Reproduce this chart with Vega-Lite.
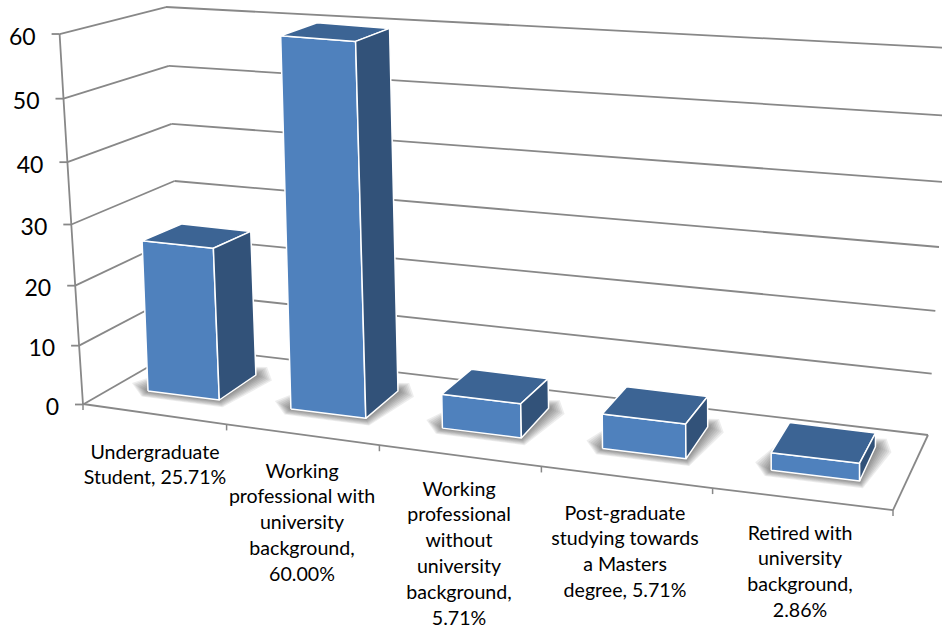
{
"$schema":"https://vega.github.io/schema/vega-lite/v6.json",
"width":942,"height":631,"padding":0,"autosize":{"type":"fit","contains":"padding"},
"background":"white",
"config":{"view":{"stroke":null},"text":{"font":"Lato"}},
"datasets":{
"bars":[
{"label":"Undergraduate\nStudent, 25.71%","value":25.71,"i":0},
{"label":"Working\nprofessional with\nuniversity\nbackground,\n60.00%","value":60,"i":1},
{"label":"Working\nprofessional\nwithout\nuniversity\nbackground,\n5.71%","value":5.71,"i":2},
{"label":"Post-graduate\nstudying towards\na Masters\ndegree, 5.71%","value":5.71,"i":3},
{"label":"Retired with\nuniversity\nbackground,\n2.86%","value":2.86,"i":4}],
"yticks":[{"v":0},{"v":10},{"v":20},{"v":30},{"v":40},{"v":50},{"v":60}],
"xticks":[{"i":0},{"i":1},{"i":2},{"i":3},{"i":4},{"i":5}]
},
"encoding":{
"x":{"field":"px","type":"quantitative","scale":{"domain":[0,942],"nice":false,"zero":false},"axis":null},
"y":{"field":"py","type":"quantitative","scale":{"domain":[631,0],"nice":false,"zero":false},"axis":null}
},
"layer":[
{"data":{"name":"yticks"},
 "transform":[
  {"calculate":"83-0.39*datum.v","as":"fx"},
  {"calculate":"404.5-5.825*datum.v-0.00583*datum.v*datum.v","as":"fy"},
  {"calculate":"183-0.283*datum.v","as":"bx"},
  {"calculate":"347-5.4*datum.v-0.00444*datum.v*datum.v","as":"by"},
  {"calculate":"928+0.367*datum.v","as":"rx"},
  {"calculate":"435-6.083*datum.v-0.0061*datum.v*datum.v","as":"ry"}],
 "layer":[
  {"transform":[{"calculate":"datum.fx","as":"px"},{"calculate":"datum.fy","as":"py"}],
   "mark":{"type":"line","stroke":"#888888","strokeWidth":1.8},"encoding":{"order":{"field":"v","type":"quantitative"}}},
  {"transform":[{"calculate":"datum.fx-8","as":"px"},{"calculate":"datum.fy","as":"py"}],
   "mark":{"type":"rule","stroke":"#888888","strokeWidth":1.8},"encoding":{"x2":{"field":"fx"},"y2":{"field":"fy"}}},
  {"transform":[{"calculate":"datum.fx","as":"px"},{"calculate":"datum.fy","as":"py"}],
   "mark":{"type":"rule","stroke":"#888888","strokeWidth":1.8},"encoding":{"x2":{"field":"bx"},"y2":{"field":"by"}}},
  {"transform":[{"calculate":"datum.bx","as":"px"},{"calculate":"datum.by","as":"py"}],
   "mark":{"type":"rule","stroke":"#888888","strokeWidth":1.8,"clip":true},"encoding":{"x2":{"field":"rx"},"y2":{"field":"ry"}}},
  {"transform":[{"calculate":"datum.fx-24","as":"px"},{"calculate":"datum.fy+10.5","as":"py"}],
   "mark":{"type":"text","align":"right","baseline":"alphabetic","fontSize":23,"fill":"#000000"},
   "encoding":{"text":{"field":"v","type":"quantitative"}}}
 ]},
{"data":{"name":"xticks"},
 "transform":[
  {"calculate":"83+139*datum.i+4.6*datum.i*datum.i","as":"px"},
  {"calculate":"404+0.131*(datum.px-83)+0.4*datum.i*(5-datum.i)","as":"py"},
  {"calculate":"datum.py+6","as":"tickEnd"}],
 "layer":[
  {"mark":{"type":"line","stroke":"#888888","strokeWidth":1.8},"encoding":{"order":{"field":"i","type":"quantitative"}}},
  {"mark":{"type":"rule","stroke":"#888888","strokeWidth":1.5},"encoding":{"y2":{"field":"tickEnd"}}},
  {"transform":[{"filter":"datum.i==5"},{"calculate":"928","as":"bx"},{"calculate":"435","as":"by"}],
   "mark":{"type":"rule","stroke":"#888888","strokeWidth":1.8},"encoding":{"x2":{"field":"bx"},"y2":{"field":"by"}}}
 ]},
{"data":{"name":"bars"},
 "transform":[
  {"calculate":"148+138.6*datum.i+4.3*datum.i*datum.i","as":"xBL"},
  {"calculate":"391+17.3*datum.i+0.63*datum.i*datum.i","as":"yBL"},
  {"calculate":"71.3+3.4*datum.i+0.22*datum.i*datum.i","as":"w"},
  {"calculate":"datum.xBL+datum.w","as":"xBR"},
  {"calculate":"datum.yBL+9+0.42*datum.i","as":"yBR"},
  {"calculate":"36.6-4.2*datum.i-0.25*datum.i*datum.i","as":"ddx"},
  {"calculate":"25+2.3*datum.i","as":"ddy"},
  {"calculate":"datum.value*(5.65+0.12*datum.i+0.0075*datum.value)","as":"hgt"},
  {"calculate":"datum.value*max(0,0.23-0.06*datum.i)","as":"lean"},
  {"calculate":"datum.ddy-3.5-0.18*datum.value","as":"dtop"},
  {"calculate":"datum.ddx+0.03*datum.value","as":"ddxt"},
  {"calculate":"datum.xBL-datum.lean","as":"xTL"},
  {"calculate":"datum.yBL-datum.hgt","as":"yTL"},
  {"calculate":"datum.xBR-datum.lean","as":"xTR"},
  {"calculate":"datum.yBR-datum.hgt*1.01","as":"yTR"},
  {"calculate":"datum.xTR+datum.ddxt","as":"xTB"},
  {"calculate":"datum.yTR-datum.dtop","as":"yTB"},
  {"calculate":"datum.xTL+datum.ddxt+2.5","as":"xTC"},
  {"calculate":"datum.yTL-datum.dtop","as":"yTC"},
  {"calculate":"datum.xBR+datum.ddx","as":"xSB"},
  {"calculate":"datum.yBR-datum.ddy","as":"ySB"},
  {"calculate":"[0,1,2,3,4]","as":"k"},
  {"flatten":["k"]}],
 "layer":[
  {"transform":[
    {"filter":"datum.k==0"},
    {"calculate":"[0,1,2,3,4,5,6]","as":"s"},{"flatten":["s"]},
    {"calculate":"[16,14,12,10,8,6,4,2]","as":"e"},{"flatten":["e"]},
    {"calculate":"[datum.xBL-datum.e,datum.xBL-0.4*datum.e,datum.xBR+0.2*datum.e,datum.xSB+datum.e,datum.xSB+0.7*datum.e,datum.xBL+datum.ddx,datum.xBL-datum.e][datum.s]","as":"px"},
    {"calculate":"[datum.yBL-0.5*datum.e,datum.yBL+0.35*datum.e,datum.yBR+0.45*datum.e,datum.ySB+0.35*datum.e,datum.ySB-0.5*datum.e,datum.yBL-datum.ddy,datum.yBL-0.5*datum.e][datum.s]","as":"py"}],
   "mark":{"type":"line","fill":"#303030","fillOpacity":0.085,"strokeWidth":0,"stroke":null,"interpolate":"linear"},
   "encoding":{"order":{"field":"s","type":"quantitative"},"detail":[{"field":"label"},{"field":"e"}]}},
  {"transform":[
    {"calculate":"[datum.xBL,datum.xBR,datum.xTR,datum.xTL,datum.xBL][datum.k]","as":"px"},
    {"calculate":"[datum.yBL,datum.yBR,datum.yTR,datum.yTL,datum.yBL][datum.k]","as":"py"}],
   "mark":{"type":"line","fill":"#4f81bd","stroke":"#ffffff","strokeWidth":1.5,"strokeJoin":"round"},
   "encoding":{"order":{"field":"k","type":"quantitative"},"detail":{"field":"label"}}},
  {"transform":[
    {"calculate":"[datum.xTL,datum.xTR,datum.xTB,datum.xTC,datum.xTL][datum.k]","as":"px"},
    {"calculate":"[datum.yTL,datum.yTR,datum.yTB,datum.yTC,datum.yTL][datum.k]","as":"py"}],
   "mark":{"type":"line","fill":"#3c6494","stroke":"#ffffff","strokeWidth":1.5,"strokeJoin":"round"},
   "encoding":{"order":{"field":"k","type":"quantitative"},"detail":{"field":"label"}}},
  {"transform":[
    {"calculate":"[datum.xBR,datum.xSB,datum.xTB,datum.xTR,datum.xBR][datum.k]","as":"px"},
    {"calculate":"[datum.yBR,datum.ySB,datum.yTB,datum.yTR,datum.yBR][datum.k]","as":"py"}],
   "mark":{"type":"line","fill":"#325279","stroke":"#ffffff","strokeWidth":1.5,"strokeJoin":"round"},
   "encoding":{"order":{"field":"k","type":"quantitative"},"detail":{"field":"label"}}},
  {"transform":[
    {"filter":"datum.k==0"},
    {"calculate":"split(datum.label,'\\n')","as":"lines"},
    {"calculate":"[155,302,459,625,800][datum.i]","as":"px"},
    {"calculate":"[458.5,477.5,495.5,519.5,539.5][datum.i]","as":"py"}],
   "mark":{"type":"text","align":"center","baseline":"alphabetic","fontSize":19.6,"lineHeight":25.8,"fill":"#000000"},
   "encoding":{"text":{"field":"lines","type":"nominal"}}}
 ]}
]
}
